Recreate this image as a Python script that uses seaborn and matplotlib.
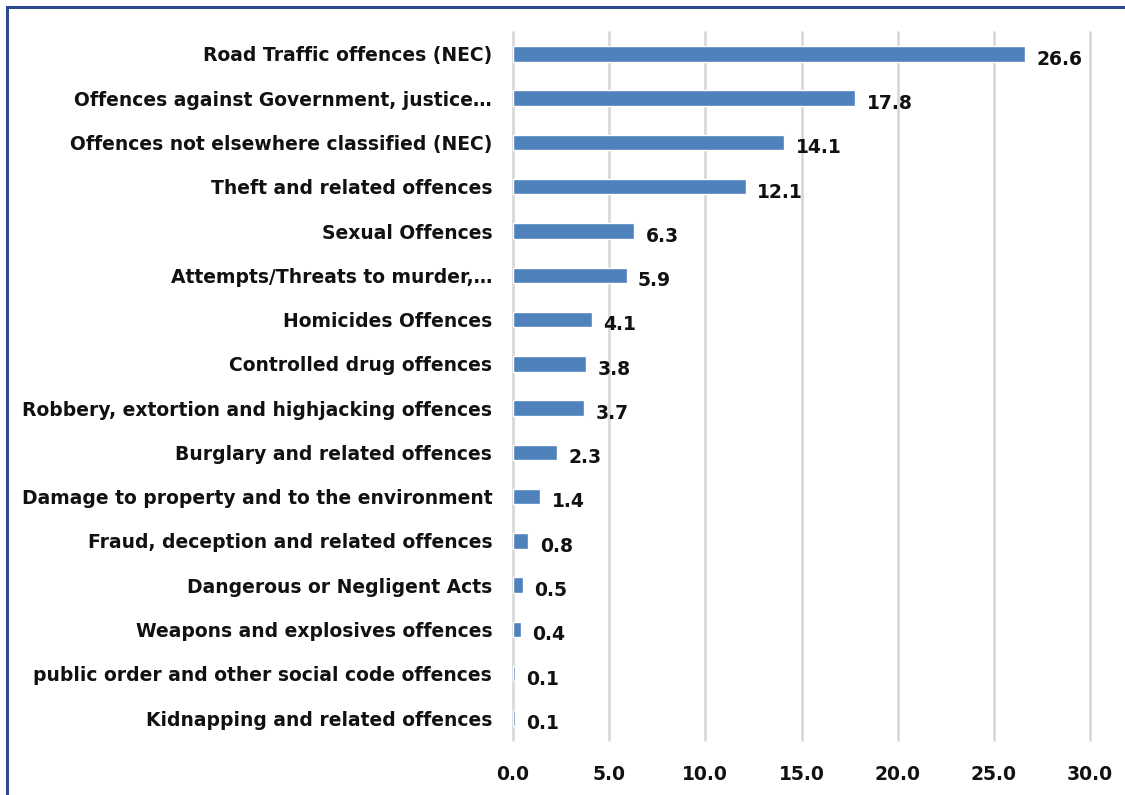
import matplotlib
matplotlib.use("Agg")
import matplotlib.pyplot as plt
import seaborn as sns
import pandas as pd
from matplotlib.patches import Rectangle

categories = [
    "Road Traffic offences (NEC)",
    "Offences against Government, justice\u2026",
    "Offences not elsewhere classified (NEC)",
    "Theft and related offences",
    "Sexual Offences",
    "Attempts/Threats to murder,\u2026",
    "Homicides Offences",
    "Controlled drug offences",
    "Robbery, extortion and highjacking offences",
    "Burglary and related offences",
    "Damage to property and to the environment",
    "Fraud, deception and related offences",
    "Dangerous or Negligent Acts",
    "Weapons and explosives offences",
    "public order and other social code offences",
    "Kidnapping and related offences",
]
values = [26.6, 17.8, 14.1, 12.1, 6.3, 5.9, 4.1, 3.8, 3.7, 2.3, 1.4, 0.8, 0.5, 0.4, 0.1, 0.1]
xticks = [0, 5, 10, 15, 20, 25, 30]

df = pd.DataFrame({"category": categories, "value": values})

sns.set_style("white")
plt.rcParams["font.family"] = ["DejaVu Sans"]
plt.rcParams["font.weight"] = "bold"

fs = 13.5

fig = plt.figure(figsize=(11.25, 7.95), dpi=100)
ax = fig.add_axes([0.456, 0.069, 0.513, 0.891])

sns.barplot(data=df, x="value", y="category", color="#4F81BD", width=0.35,
            saturation=1, ax=ax, zorder=3)

for i, v in enumerate(values):
    ax.text(v + 0.6, i + 0.12, f"{v:.1f}", va="center", ha="left",
            fontsize=fs, fontweight="bold", color="#111111")

ax.set_xlim(0, 30)
ax.set_xticks(xticks)
ax.set_xticklabels([f"{t:.1f}" for t in xticks], fontsize=fs, fontweight="bold")
ax.tick_params(axis="y", labelsize=fs, length=0, pad=15, labelcolor="#111111")
ax.tick_params(axis="x", length=0, pad=18, labelcolor="#111111")
for lab in ax.get_yticklabels():
    lab.set_fontweight("bold")
ax.grid(axis="x", color="#D9D9D9", linewidth=2, zorder=0)
ax.grid(axis="y", visible=False)
for gl in ax.get_xgridlines():
    gl.set_clip_on(False)
sns.despine(ax=ax, left=True, bottom=True)
ax.set_xlabel("")
ax.set_ylabel("")

fig.patches.append(Rectangle((0.0065, -0.01), 1.0, 1.001, transform=fig.transFigure,
                             fill=False, edgecolor="#2E4A8F", linewidth=2.2))

fig.savefig("out.png", dpi=100)
